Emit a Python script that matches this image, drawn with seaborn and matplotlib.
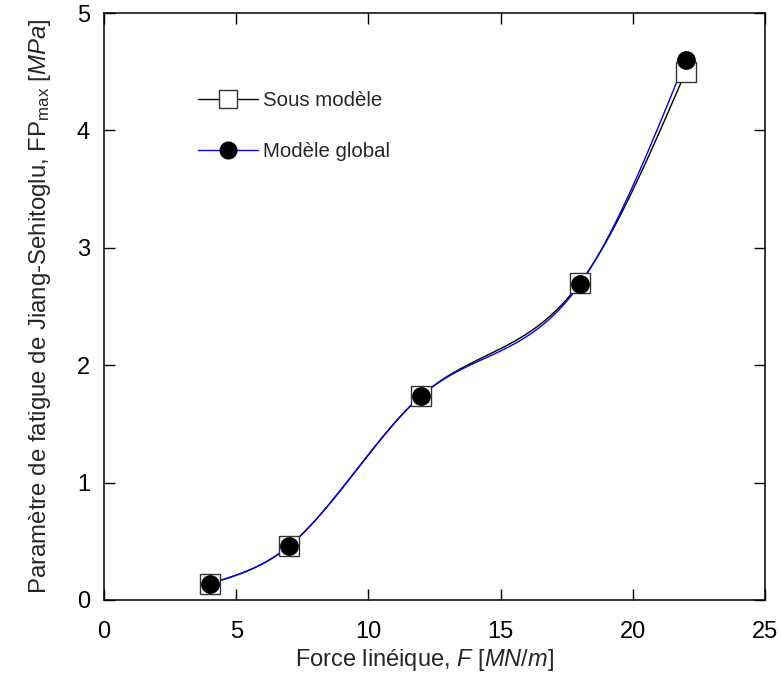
import numpy as np
import pandas as pd
import matplotlib
matplotlib.use("Agg")
import matplotlib.pyplot as plt
import seaborn as sns
from matplotlib.lines import Line2D

# data
force = [4, 7, 12, 18, 22]
fp_sous = [0.14, 0.46, 1.74, 2.70, 4.50]
fp_global = [0.14, 0.46, 1.74, 2.69, 4.60]


def natural_spline(x, y, n=300):
    # natural cubic spline, used only to draw the smooth connecting line
    x = np.asarray(x, float)
    y = np.asarray(y, float)
    k = len(x)
    h = np.diff(x)
    A = np.zeros((k, k))
    b = np.zeros(k)
    A[0, 0] = A[-1, -1] = 1
    for i in range(1, k - 1):
        A[i, i - 1] = h[i - 1]
        A[i, i] = 2 * (h[i - 1] + h[i])
        A[i, i + 1] = h[i]
        b[i] = 6 * ((y[i + 1] - y[i]) / h[i] - (y[i] - y[i - 1]) / h[i - 1])
    M = np.linalg.solve(A, b)
    xs = np.linspace(x[0], x[-1], n)
    idx = np.clip(np.searchsorted(x, xs) - 1, 0, k - 2)
    x0, x1 = x[idx], x[idx + 1]
    hi = x1 - x0
    ys = (M[idx] * (x1 - xs) ** 3 / (6 * hi) + M[idx + 1] * (xs - x0) ** 3 / (6 * hi)
          + (y[idx] / hi - M[idx] * hi / 6) * (x1 - xs)
          + (y[idx + 1] / hi - M[idx + 1] * hi / 6) * (xs - x0))
    return xs, ys


sns.set_style("ticks")
plt.rcParams["font.family"] = ["Liberation Sans", "DejaVu Sans"]
plt.rcParams["mathtext.fontset"] = "custom"
plt.rcParams["mathtext.rm"] = "Liberation Sans"
plt.rcParams["mathtext.it"] = "Liberation Sans:italic"

fig = plt.figure(figsize=(7.81, 6.82), dpi=100)
ax = fig.add_axes([104 / 781, 1 - 600 / 682, 661 / 781, 587 / 682])

xs, ys = natural_spline(force, fp_sous)
sous_line = pd.DataFrame({"x": xs, "y": ys})
xg, yg = natural_spline(force, fp_global)
glob_line = pd.DataFrame({"x": xg, "y": yg})

sns.lineplot(data=sous_line, x="x", y="y", color="black", linewidth=1.0, ax=ax, sort=False)
sns.lineplot(data=glob_line, x="x", y="y", color="#0000ee", linewidth=1.0, ax=ax, sort=False)

ax.plot(force, fp_sous, linestyle="none", marker="s", markersize=14,
        markerfacecolor="white", markeredgecolor="#333333", markeredgewidth=1.0)
ax.plot(force, fp_global, linestyle="none", marker="o", markersize=12.5,
        markerfacecolor="black", markeredgecolor="black")

ax.set_xlim(0, 25)
ax.set_ylim(0, 5)
ax.set_xticks([0, 5, 10, 15, 20, 25])
ax.set_yticks([0, 1, 2, 3, 4, 5])
ax.tick_params(direction="in", length=8, width=1, top=True, right=True,
               labelsize=17, colors="black")
ax.tick_params(axis="x", pad=15)
ax.tick_params(axis="y", pad=10)
for s in ax.spines.values():
    s.set_visible(True)
    s.set_linewidth(1.1)
    s.set_color("black")

ax.set_xlabel("Force linéique, $\\mathit{F}$ [$\\mathit{MN/m}$]", fontsize=17, labelpad=3)
ax.xaxis.label.set_x(0.485)
ax.set_ylabel("Paramètre de fatigue de Jiang-Sehitoglu, FP$_{\\mathrm{max}}$ [$\\mathit{MPa}$]",
              fontsize=17.3, labelpad=17)

handles = [
    Line2D([], [], color="black", lw=1, marker="s", markersize=13,
           markerfacecolor="white", markeredgecolor="#333333"),
    Line2D([], [], color="#0000ee", lw=1, marker="o", markersize=12,
           markerfacecolor="black", markeredgecolor="black"),
]
ax.legend(handles, ["Sous modèle", "Modèle global"], loc="upper left",
          bbox_to_anchor=(0.115, 0.898), frameon=False, fontsize=14.7,
          handlelength=2.9, labelspacing=1.55, handletextpad=0.25)

fig.savefig("out.png", dpi=100)
